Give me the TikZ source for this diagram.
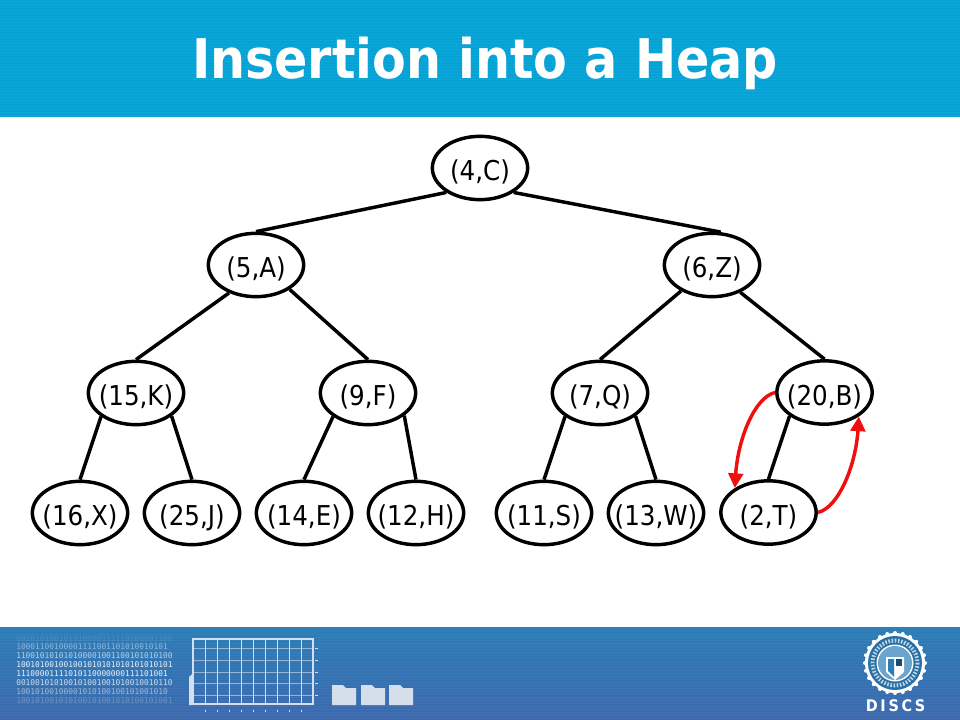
\documentclass[tikz,border=0pt]{standalone}
\usepackage{fontspec}
\setmainfont{DejaVu Sans Condensed}
\newfontfamily\monof{DejaVu Sans Mono}
\usetikzlibrary{shapes.geometric,arrows.meta}
\definecolor{topblue}{HTML}{05A2D6}
\definecolor{topline}{HTML}{0FA6D8}
\definecolor{botA}{HTML}{2B7DB8}
\definecolor{botB}{HTML}{3D69AD}
\definecolor{pale}{HTML}{D5DFEC}
\definecolor{redarrow}{HTML}{F00F0F}
\newcommand{\nt}[1]{\makebox[0pt][c]{\raisebox{-9.5pt}[0pt][0pt]{#1}}}
\tikzset{
 x=0.75pt,y=-0.75pt,
 heapnode/.style={ellipse,draw=black,line width=2.6pt,fill=white,minimum width=71.5pt,minimum height=47.5pt,inner sep=0pt,font=\fontsize{20.5}{24}\selectfont,text=black},
 edge/.style={draw=black,line width=2.6pt},
 swap/.style={draw=redarrow,line width=2.6pt,-{Triangle[length=11pt,width=11pt]}},
 binary/.style={anchor=west,inner sep=0pt,text=white,font=\monof\fontsize{5.9}{7}\selectfont},
 pale line/.style={draw=pale,line width=0.6pt},
}
\begin{document}
\begin{tikzpicture}
\useasboundingbox (0,0) rectangle (960,720);
\fill[white] (0,0) rectangle (960,720);
% header band
\fill[topblue] (0,0) rectangle (960,117);
\foreach \y in {1,4,...,115}{\fill[topline] (0,\y) rectangle (960,\y+1);}
\node[text=white,font=\bfseries\fontsize{41}{48}\selectfont,inner sep=0pt] (title) at (485,63) {Insertion into a Heap};
% footer band
\fill[top color=botA,bottom color=botB,draw=none] (0,627) rectangle (960,720);
\foreach \y in {628,631,...,718}{\fill[white,opacity=0.04] (0,\y) rectangle (960,\y+1);}
% binary text
\node[binary,opacity=.12] (b1) at (16,639) {001010100101010000111110100001100};
\node[binary,opacity=.45] (b2) at (16,647) {10001100100001111001101010010101};
\node[binary,opacity=.65] (b3) at (16,656) {110010101010100001001100101010100};
\node[binary,opacity=.9] (b4) at (16,665) {100101001001001010101010101010101};
\node[binary,opacity=.9] (b5) at (16,674) {11100001111010110000000111101001};
\node[binary,opacity=.75] (b6) at (16,683) {001001010100101001001010010010110};
\node[binary,opacity=.5] (b7) at (16,692) {10010100100001010100100101001010};
\node[binary,opacity=.25] (b8) at (16,701) {100101001010100101001010100101001};
% chart
\fill[pale] (189,677) -- (193,673) -- (193,705) -- (189,705) -- cycle;
\draw[pale line,line width=0.4pt,opacity=.6] (193,648) -- (313,648) (193,660) -- (313,660) (193,672) -- (313,672) (193,683) -- (313,683) (193,695) -- (313,695);
\foreach \x in {205,217,...,301}{\draw[pale line] (\x,639) -- (\x,704);
 \fill[pale] (\x,710) rectangle (\x+1,712);}
\draw[pale line,line width=1pt] (193,639) rectangle (313,704);
\foreach \y in {648,660,672,683,695}{\fill[pale] (315,\y) rectangle (318,\y+1);}
% folders
\foreach \x in {332,361,389}{\fill[pale] (\x,685) -- (\x+11,685) -- (\x+14,688) -- (\x+24,688) -- (\x+24,705) -- (\x,705) -- cycle;}
% logo
\fill[white] (895,663) circle[radius=30];
\foreach \a in {0,15,...,345}{\fill[white] (895,663) ++(\a:30) circle[radius=2];}
\fill[botA!90!black] (895,663) circle[radius=27];
\draw[white,line width=3pt,dash pattern=on 1.2pt off 1.2pt,opacity=.7] (895,663) circle[radius=22.5];
\fill[white] (895,663) circle[radius=18.5];
\fill[botA!70!white] (895,663) circle[radius=17];
\fill[white] (886,657) -- (904,657) -- (904,672) -- (895,680) -- (886,672) -- cycle;
\fill[botA] (888,659) -- (894,659) -- (894,677) -- (888,671) -- cycle;
\fill[botA!60!black] (896,659) rectangle (902,666);
\node[text=white,font=\bfseries\fontsize{12}{14}\selectfont,inner sep=0pt] (discs) at (895.5,706) {D\kern2pt I\kern2pt S\kern2pt C\kern2pt S};
% heap
\node[heapnode] (n1) at (480,168) {\nt{(4,C)}};
\node[heapnode] (n2) at (256,265) {\nt{(5,A)}};
\node[heapnode] (n3) at (712,265) {\nt{(6,Z)}};
\node[heapnode] (n4) at (136,393) {\nt{(15,K)}};
\node[heapnode] (n5) at (368,393) {\nt{(9,F)}};
\node[heapnode] (n6) at (600,393) {\nt{(7,Q)}};
\node[heapnode] (n7) at (824.5,392.5) {\nt{(20,B)}};
\node[heapnode] (n8) at (80,513) {\nt{(16,X)}};
\node[heapnode] (n9) at (192,513) {\nt{(25,J)}};
\node[heapnode] (n10) at (304,513) {\nt{(14,E)}};
\node[heapnode] (n11) at (416,513) {\nt{(12,H)}};
\node[heapnode] (n12) at (544,513) {\nt{(11,S)}};
\node[heapnode] (n13) at (656,513) {\nt{(13,W)}};
\node[heapnode] (n14) at (768.5,512.5) {\nt{(2,T)}};
\draw[edge] (n1.216) -- (n2.90);
\draw[edge] (n1.324) -- (n3.75);
\draw[edge] (n2.226) -- (n4.90);
\draw[edge] (n2.324) -- (n5.90);
\draw[edge] (n3.220) -- (n6.90);
\draw[edge] (n3.316) -- (n7.90);
\draw[edge] (n4.214) -- (n8.90);
\draw[edge] (n4.327) -- (n9.90);
\draw[edge] (n5.214) -- (n10.90);
\draw[edge] (n5.328) -- (n11.90);
\draw[edge] (n6.214) -- (n12.90);
\draw[edge] (n6.327) -- (n13.90);
\draw[edge] (n7.214) -- (n14.90);
\draw[swap] (n7.180) .. controls +(-21,5) and +(3,-48) .. (n14.144);
\draw[swap] (n14.0) .. controls +(21,-5) and +(-3,48) .. (n7.325);
\end{tikzpicture}
\end{document}
